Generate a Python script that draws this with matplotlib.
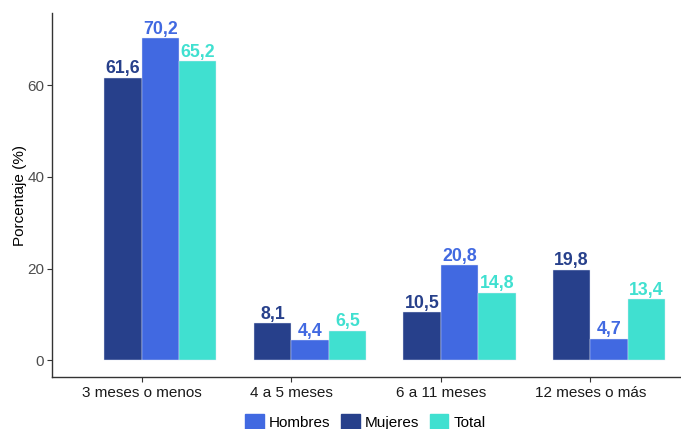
import numpy as np
import matplotlib.pyplot as plt
from matplotlib.patches import Patch

plt.rcParams['font.family'] = ['Liberation Sans', 'DejaVu Sans']

categorias = ['3 meses o menos', '4 a 5 meses', '6 a 11 meses', '12 meses o más']
mujeres = [61.6, 8.1, 10.5, 19.8]
hombres = [70.2, 4.4, 20.8, 4.7]
total = [65.2, 6.5, 14.8, 13.4]

series = [('Mujeres', mujeres, '#27408B', -0.125),
          ('Hombres', hombres, '#4169E1', 0.125),
          ('Total', total, '#40E0D0', 0.375)]

fig = plt.figure(figsize=(6.81, 4.29), dpi=100)
ax = fig.add_axes([52 / 681, 52 / 429, 628 / 681, 364 / 429])

x = np.arange(len(categorias))
w = 0.25
for nombre, vals, color, off in series:
    ax.bar(x + off, vals, width=w, color=color, edgecolor='#dfe6f5', linewidth=0.3)
    for xi, v in zip(x, vals):
        ax.annotate(f'{v:.1f}'.replace('.', ','), (xi + off, v), xytext=(0, 0.3),
                    textcoords='offset points', ha='center', va='bottom',
                    fontsize=12.8, fontweight='bold', color=color)

ax.set_xlim(-0.6, len(categorias) - 0.4)
ax.set_ylim(-3.6, 75.7)
ax.set_xticks(x)
ax.set_xticklabels(categorias)
ax.set_yticks([0, 20, 40, 60])
ax.tick_params(axis='both', labelsize=11, colors='#333333', labelcolor='#4D4D4D', length=3.5, pad=2)
ax.tick_params(axis='x', labelcolor='#1a1a1a', pad=3)
ax.set_ylabel('Porcentaje (%)', fontsize=11, color='black', labelpad=0)

for s in ['top', 'right']:
    ax.spines[s].set_visible(False)
for s in ['left', 'bottom']:
    ax.spines[s].set_color('#333333')
    ax.spines[s].set_linewidth(1.0)

handles = [Patch(color='#4169E1', label='Hombres'),
           Patch(color='#27408B', label='Mujeres'),
           Patch(color='#40E0D0', label='Total')]
fig.legend(handles=handles, loc='lower center', bbox_to_anchor=(0.537, -0.035), ncol=3,
           frameon=False, fontsize=11, handlelength=1.2, handleheight=1.2,
           handletextpad=0.35, columnspacing=0.7)

fig.savefig('out.png', dpi=100)
